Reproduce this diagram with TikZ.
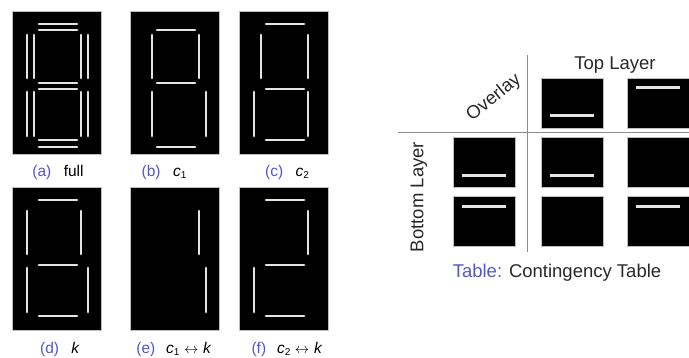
\documentclass[tikz,border=0pt]{standalone}
\usepackage{fontspec}
\setmainfont{Liberation Sans}
\usetikzlibrary{calc}
\definecolor{capblue}{RGB}{85,85,200}
\definecolor{segc}{RGB}{228,228,228}
\definecolor{linec}{RGB}{140,140,140}
\definecolor{txtc}{RGB}{40,40,40}
\newcommand\segTo{\draw[seg] (27,13) -- (65,13);}
\newcommand\segTi{\draw[seg] (27,19) -- (65,19);}
\newcommand\segMu{\draw[seg] (27,72) -- (65,72);}
\newcommand\segMl{\draw[seg] (27,78) -- (65,78);}
\newcommand\segBi{\draw[seg] (27,129) -- (65,129);}
\newcommand\segBo{\draw[seg] (27,136) -- (65,136);}
\newcommand\segULo{\draw[seg] (15,24) -- (15,67);}
\newcommand\segULi{\draw[seg] (22,24) -- (22,67);}
\newcommand\segURi{\draw[seg] (69,24) -- (69,67);}
\newcommand\segURo{\draw[seg] (76,24) -- (76,67);}
\newcommand\segLLo{\draw[seg] (15,81) -- (15,125);}
\newcommand\segLLi{\draw[seg] (22,81) -- (22,125);}
\newcommand\segLRi{\draw[seg] (69,81) -- (69,125);}
\newcommand\segLRo{\draw[seg] (76,81) -- (76,125);}
\newcommand\csub[2]{\textit{#1}\raisebox{-0.35ex}{\fontsize{10}{10}\selectfont #2}}
\newcommand\harr{\hspace{0.3em}$\leftrightarrow$\hspace{0.3em}}
\begin{document}
\begin{tikzpicture}[x=1pt,y=-1pt,
 panel/.style={fill=black,draw=gray!50,line width=0.6pt,minimum width=89pt,minimum height=143pt,inner sep=0pt,outer sep=0pt,anchor=north west},
 seg/.style={draw=segc,line width=2.8pt,line cap=round},
 lab/.style={font=\fontsize{15.5}{17}\selectfont,text=black,inner sep=0pt},
 cell/.style={fill=black,draw=gray!50,line width=0.4pt,minimum width=62pt,minimum height=50pt,inner sep=0pt,outer sep=0pt,anchor=north west},
 bar/.style={draw=segc,line width=3pt},
 hdr/.style={font=\fontsize{18.5}{20}\selectfont,text=txtc,inner sep=0pt},
 sepline/.style={draw=linec,line width=1pt}]
\useasboundingbox (0,0) rectangle (689,358);
% ---- digit panels ----
\begin{scope}[shift={(12,11)}]
 \node[panel] (pa) at (0,0) {};
 \segTo \segTi \segMu \segMl \segBi \segBo
 \segULo \segULi \segURi \segURo \segLLo \segLLi \segLRi \segLRo
\end{scope}
\begin{scope}[shift={(130,11)}]
 \node[panel] (pb) at (0,0) {};
 \segTi \segULi \segURi \segMu \segLLi \segLRo \segBo
\end{scope}
\begin{scope}[shift={(239,11)}]
 \node[panel] (pc) at (0,0) {};
 \segTo \segULi \segURi \segMl \segLLo \segLRi \segBi
\end{scope}
\begin{scope}[shift={(12,187)}]
 \node[panel] (pd) at (0,0) {};
 \segTo \segULo \segURi \segMl \segLLo \segLRo \segBi
\end{scope}
\begin{scope}[shift={(130,187)}]
 \node[panel] (pe) at (0,0) {};
 \segURi \segLRo
\end{scope}
\begin{scope}[shift={(239,187)}]
 \node[panel] (pf) at (0,0) {};
 \segTo \segURi \segMl \segLLo \segBi
\end{scope}
% ---- panel labels ----
\node[lab] (la) at (58,172) {\textcolor{capblue}{(a)}\hspace{0.8em}full};
\node[lab] (lb) at (164,172) {\textcolor{capblue}{(b)}\hspace{0.8em}\csub{c}{1}};
\node[lab] (lc) at (287,172) {\textcolor{capblue}{(c)}\hspace{0.8em}\csub{c}{2}};
\node[lab] (ld) at (60,349) {\textcolor{capblue}{(d)}\hspace{0.8em}\textit{k}};
\node[lab] (le) at (174,349) {\textcolor{capblue}{(e)}\hspace{0.7em}\csub{c}{1}\harr\textit{k}};
\node[lab] (lf) at (287,349) {\textcolor{capblue}{(f)}\hspace{0.7em}\csub{c}{2}\harr\textit{k}};
% ---- contingency table ----
\coordinate (v1) at (527,55);
\coordinate (v2) at (527,252);
\coordinate (h1) at (398,133);
\coordinate (h2) at (689,133);
\draw[sepline] (v1) -- (v2);
\draw[sepline] (h1) -- (h2);
\node[hdr] (toplayer) at (615,65) {Top Layer};
\node[hdr,rotate=39] (overlay) at (494,98) {Overlay};
\node[hdr,rotate=90] (botlayer) at (419,197) {Bottom Layer};
\node[cell] (c02) at (541,78) {};
\node[cell] (c03) at (627,78) {};
\node[cell] (c11) at (453,137) {};
\node[cell] (c12) at (541,137) {};
\node[cell] (c13) at (627,137) {};
\node[cell] (c21) at (453,196) {};
\node[cell] (c22) at (541,196) {};
\node[cell] (c23) at (627,196) {};
\draw[bar] ($(c02.north west)+(9,38)$) -- ++(44,0);
\draw[bar] ($(c03.north west)+(9,10)$) -- ++(44,0);
\draw[bar] ($(c11.north west)+(9,39)$) -- ++(44,0);
\draw[bar] ($(c12.north west)+(9,39)$) -- ++(44,0);
\draw[bar] ($(c21.north west)+(9,11)$) -- ++(44,0);
\draw[bar] ($(c23.north west)+(9,11)$) -- ++(44,0);
\node[hdr] (caption) at (557,273) {\textcolor{capblue}{Table:} Contingency Table};
\end{tikzpicture}
\end{document}
